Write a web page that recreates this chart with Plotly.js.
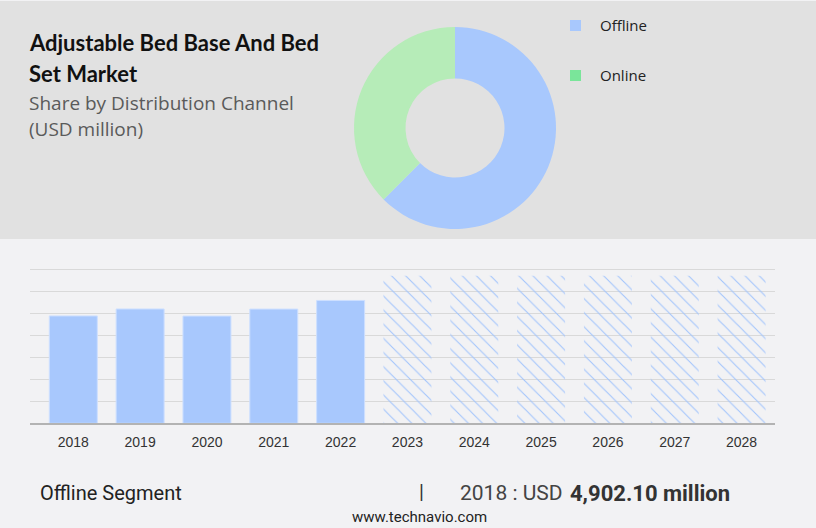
<!DOCTYPE html>
<html>
<head>
<meta charset="utf-8">
<script src="https://cdn.plot.ly/plotly-3.0.1.min.js"></script>
<style>
  html, body { margin: 0; padding: 0; background: #f2f2f4; }
  #chart { width: 816px; height: 528px; }
</style>
</head>
<body>
<div id="chart"></div>
<script>
// donut: share by distribution channel
const channels = ['Offline', 'Online'];
const channelShares = [62.5, 37.5];
const sliceColors = ['#a8c8fd', '#b6ecb8'];
const legendColors = ['#a8c8fd', '#7ae59a'];

// bars: offline segment, USD million
const histYears = ['2018', '2019', '2020', '2021', '2022'];
const histValues = [4902.1, 5220, 4895, 5215, 5610];
const forecastYears = ['2023', '2024', '2025', '2026', '2027', '2028'];
const forecastValues = [6740, 6740, 6740, 6740, 6740, 6740];

const W = 816, H = 528;
// helpers to go from pixel positions to paper fractions
const px = (x) => x / W;
const py = (y) => (H - y) / H;

const barColor = '#a8c8fd';

const data = [
    {
        type: 'pie',
        labels: channels,
        values: channelShares,
        hole: 0.49,
        sort: false,
        direction: 'clockwise',
        rotation: 0,
        marker: { colors: sliceColors, line: { width: 0 } },
        textinfo: 'none',
        hoverinfo: 'none',
        showlegend: false,
        domain: { x: [px(354), px(556)], y: [py(229), py(27)] }
    },
    {
        type: 'bar',
        x: histYears,
        y: histValues,
        marker: { color: barColor, line: { color: '#cddfff', width: 1 } },
        hoverinfo: 'none',
        showlegend: false
    },
    {
        type: 'bar',
        x: forecastYears,
        y: forecastValues,
        marker: {
            color: barColor,
            line: { width: 0 },
            pattern: { shape: '\\', size: 10, solidity: 0.11, fillmode: 'replace', bgcolor: 'rgba(0,0,0,0)', fgcolor: '#a2c4fc' }
        },
        hoverinfo: 'none',
        showlegend: false
    }
];

const allYears = histYears.concat(forecastYears);

const narrow = '"Liberation Sans Narrow", Roboto, sans-serif';

const annotations = [
    { text: '<b>Adjustable Bed Base And Bed</b>', x: px(27), y: py(43), font: { family: 'Lato, "Open Sans", sans-serif', size: 22, color: '#111' } },
    { text: '<b>Set Market</b>', x: px(27), y: py(73), font: { family: 'Lato, "Open Sans", sans-serif', size: 22, color: '#111' } },
    { text: 'Share by Distribution Channel', x: px(27), y: py(103), font: { family: '"Open Sans", sans-serif', size: 19, color: '#5a5a5a' } },
    { text: '(USD million)', x: px(27), y: py(129), font: { family: '"Open Sans", sans-serif', size: 19, color: '#5a5a5a' } },
    { text: channels[0], x: px(598), y: py(25), font: { family: '"Open Sans", sans-serif', size: 15, color: '#222' } },
    { text: channels[1], x: px(598), y: py(75), font: { family: '"Open Sans", sans-serif', size: 15, color: '#222' } },
    { text: 'Offline Segment', x: px(38), y: py(493), font: { family: narrow, size: 20, color: '#222' } },
    { text: '|', x: px(417), y: py(492), font: { family: 'Roboto, sans-serif', size: 20, color: '#333' } },
    { text: '2018 : USD', x: px(458), y: py(493), font: { family: narrow, size: 21, color: '#444' } },
    { text: '<b>4,902.10 million</b>', x: px(568), y: py(493), font: { family: narrow, size: 22, color: '#333' } },
    { text: 'www.technavio.com', x: px(420), y: py(517), xanchor: 'center', font: { family: narrow, size: 15, color: '#222' } }
].map(a => Object.assign({ xref: 'paper', yref: 'paper', xanchor: 'left', yanchor: 'middle', showarrow: false }, a));

const shapes = [
    // grey header band
    { type: 'rect', xref: 'paper', yref: 'paper', x0: 0, x1: 1, y0: py(239), y1: py(1), fillcolor: '#e1e1e1', line: { width: 0 }, layer: 'below' },
    // legend squares
    { type: 'rect', xref: 'paper', yref: 'paper', x0: px(570), x1: px(581), y0: py(31), y1: py(20), fillcolor: legendColors[0], line: { width: 0 } },
    { type: 'rect', xref: 'paper', yref: 'paper', x0: px(570), x1: px(581), y0: py(81), y1: py(70), fillcolor: legendColors[1], line: { width: 0 } }
];

const layout = {
    width: W,
    height: H,
    margin: { l: 0, r: 0, t: 0, b: 0 },
    paper_bgcolor: '#f2f2f4',
    plot_bgcolor: 'rgba(0,0,0,0)',
    barmode: 'overlay',
    bargap: 0.282,
    xaxis: {
        domain: [px(30), px(775)],
        type: 'category',
        categoryorder: 'array',
        categoryarray: allYears,
        range: [-0.648, 10.5],
        showline: true,
        linecolor: '#b3b3b3',
        linewidth: 1.5,
        ticks: 'outside',
        ticklen: 5,
        tickcolor: 'rgba(0,0,0,0)',
        showgrid: false,
        tickfont: { family: '"Liberation Sans", Arial, sans-serif', size: 14, color: '#333' },
        fixedrange: true
    },
    yaxis: {
        domain: [py(423.3), py(267.8)],
        range: [0, 7100],
        tickmode: 'linear',
        tick0: 0,
        dtick: 1000,
        showticklabels: false,
        gridcolor: '#d9d9d9',
        gridwidth: 1,
        zeroline: false,
        fixedrange: true
    },
    shapes: shapes,
    annotations: annotations
};

Plotly.newPlot('chart', data, layout, { staticPlot: true });
</script>
</body>
</html>
